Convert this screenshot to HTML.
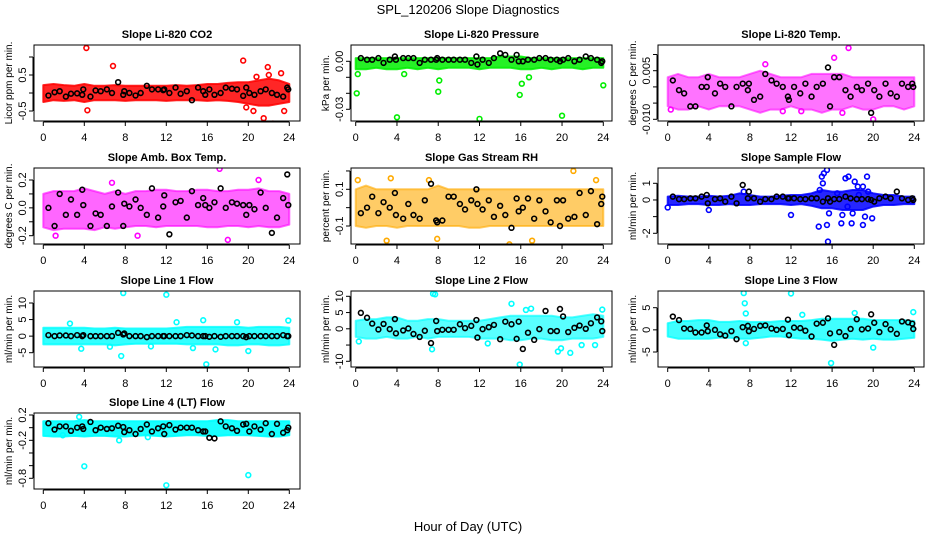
<!DOCTYPE html>
<html><head><meta charset="utf-8"><style>
body{margin:0;background:#fff}
svg{display:block;font-family:"Liberation Sans",sans-serif}
</style></head><body>
<svg id="chart" width="936" height="540" viewBox="0 0 936 540">
<rect width="936" height="540" fill="#fff"/>
<text x="468" y="14" text-anchor="middle" font-size="13">SPL_120206  Slope Diagnostics</text>
<text x="468" y="531" text-anchor="middle" font-size="13">Hour of Day (UTC)</text>
</svg>
<script>
const blackTimes = [0.5,1.1,1.6,2.2,2.7,3.3,3.8,3.9,4.6,5.1,5.6,6.2,6.7,7.3,7.8,7.9,8.4,9.0,9.5,10.1,10.6,11.2,11.7,11.8,12.3,12.9,13.4,14.0,14.5,15.1,15.6,15.8,16.2,16.7,17.3,17.8,18.4,18.9,19.5,19.8,20.1,20.6,21.2,21.7,22.3,22.8,23.4,23.8,23.9];
const bandHours = [0,1,2,3,4,5,6,7,8,9,10,11,12,13,14,15,16,17,18,19,20,21,22,23,24];
const xTicks = [0,4,8,12,16,20,24];

const titles = ["Slope Li-820 CO2","Slope Li-820 Pressure","Slope Li-820 Temp.","Slope Amb. Box Temp.","Slope Gas Stream RH","Slope Sample Flow","Slope Line 1 Flow","Slope Line 2 Flow","Slope Line 3 Flow","Slope Line 4 (LT) Flow"];
const yLabels = ["Licor ppm per min.","kPa per min.","degrees C per min.","degrees C per min.","percent per min.","ml/min per min.","ml/min per min.","ml/min per min.","ml/min per min.","ml/min per min."];
const colors = ["#ff0000","#00ee00","#ff00ff","#ff00ff","#ffaa00","#0000ff","#00ffff","#00ffff","#00ffff","#00ffff"];
const bandOpacity = [0.85,0.85,0.55,0.6,0.6,0.85,0.8,0.65,0.75,0.9];

const yTickVals = [[1,0.5,0,-0.5],[0,-0.01,-0.02,-0.03],[0.01,0.005,0,-0.005,-0.01],[0.2,0.1,0,-0.1,-0.2],[0.2,0.1,0,-0.1],[1,0,-1,-2],[10,5,0,-5],[10,5,0,-5,-10],[5,0,-5],[0.2,0,-0.2,-0.4,-0.6,-0.8]];
const yTickLabels = [["","0.5","","-0.5"],["0.00","","","-0.03"],["","0.005","","","-0.010"],["0.2","","0.0","","-0.2"],["","0.1","","-0.1"],["1","0","","-2"],["10","5","0","-5"],["10","5","0","","-10"],["5","0","-5"],["0.2","","-0.2","","","-0.8"]];

const black1 = [-0.07,0.02,0.05,-0.1,-0.02,-0.01,-0.05,0.1,-0.1,0.07,0.05,0.1,0,0.3,-0.05,0.05,0,-0.07,0,0.2,0.1,0.1,0.08,0.1,0,0.15,-0.02,0.05,-0.2,0.15,0.05,-0.05,0.1,-0.05,0,0.15,0.12,0.1,-0.08,0.15,0,-0.05,0.05,0.1,0,-0.05,-0.1,0.15,0.1];
const black2 = [0.002,0.001,0.001,0.002,-0.001,0.001,0.003,0.001,0.002,0.002,0.002,-0.001,0.001,0.001,0.001,0.002,0.001,0.001,0.001,0.001,0.001,-0.001,0.003,-0.002,0.001,-0.001,0.002,0.005,0.004,0.001,0.004,0,0,0.001,0.001,0.002,0.002,0.001,0.001,0,0.001,0.002,0,0.001,0.003,0.002,0.001,-0.001,0];
const black3 = [0.002,-0.001,-0.002,-0.006,-0.006,0.0,0,0.003,-0.002,0.001,0,-0.006,0,0.001,-0.001,0.001,-0.004,-0.003,0.004,0.002,0.001,0,-0.003,-0.004,0,-0.002,0.001,-0.003,0,0.001,0.006,-0.006,0.003,0.003,-0.001,-0.003,0,-0.001,0.001,-0.008,-0.001,-0.003,0.001,-0.002,-0.003,0.001,0,0.001,0];
const black4 = [0.0,-0.13,0.1,-0.05,0.06,-0.05,0.13,0.02,-0.13,-0.04,-0.05,-0.13,0.01,0.11,-0.13,0.03,0.01,0.06,0.0,-0.05,0.14,-0.07,0.01,0.09,-0.19,0.04,0.05,-0.07,0.12,0.02,0.07,0.02,0.0,0.04,0.14,0.0,0.04,0.03,0.02,-0.05,0.02,-0.01,0.11,0.0,-0.18,-0.07,0.07,0.24,0.02];
const black5 = [-0.03,0,0.06,-0.03,0.03,0.0,0.08,-0.04,-0.06,0.02,-0.04,-0.06,0.04,0.13,-0.07,-0.08,-0.07,0.06,0.06,0.02,-0.01,0.04,0.1,0.02,-0.01,0.04,-0.05,0.01,-0.04,-0.11,0.05,-0.02,0.0,0.05,-0.06,0.04,-0.02,-0.08,0.04,-0.1,0.04,-0.06,-0.05,0.08,-0.04,0.09,-0.09,0.02,0.06];
const black6 = [0.2,0.05,0.05,0.1,0.1,0.2,0.3,-0.2,0.05,0.1,-0.1,0.2,-0.2,0.9,0.1,0.5,0.1,-0.1,0.05,0.05,0.2,0.2,0.1,0.1,0.1,0.05,0.05,0.1,0.1,-0.1,0.1,-0.1,0.05,0.05,0.2,0.1,0.05,0.05,0.05,0.0,-0.1,0.1,0.2,0.1,0.5,0.1,0.0,0.1,0];
const black7 = [0.3,0,0.2,0.2,0,0.3,0,0.3,0,0,0,0,0,1,0.5,0.8,0,0,0,-0.3,0,0,0,0,0,0,0,0.3,0.2,0,0,0,-0.2,0,-0.2,0,0,0,0,-0.3,0,0,0,0,0,0,0.3,0,0];
const black8 = [4.9,3.4,1.6,-0.2,1.5,-0.1,3.0,-1.4,-0.5,0.1,-1.6,-2.5,-0.6,-4.4,2.4,-0.7,-0.3,-0.3,-0.3,1.4,0.2,0.9,2.7,-2.7,-0.1,0.5,1.2,-3.2,2.2,1.4,-3.1,2.2,-6.2,-1.2,-3.4,-0.1,5.5,-0.7,-0.7,6.1,3.8,-1.0,0.3,1.0,0.0,1.7,3.5,2.3,-0.7];
const black9 = [3.0,2.2,0.3,0.2,-0.6,-0.6,1.0,-0.3,0,-1.0,-1.3,-0.3,-2.1,0.6,0.9,-0.3,0.2,0.9,1.0,0.3,0,0.2,2.3,-1.2,0.5,0.4,-0.2,-1.5,1.4,1.6,2.6,-0.8,-3.4,-0.5,-1.4,0.2,2.4,0.1,0.3,3.5,1.6,-0.5,1.3,0.1,-0.9,1.9,1.7,1.4,0.2];
const black10 = [0.07,-0.03,0.02,0.02,-0.05,0.0,0.02,-0.02,0.09,-0.04,0.0,-0.02,-0.01,0.03,0.01,-0.07,-0.04,-0.1,-0.02,0.05,-0.06,-0.01,0.02,-0.1,0.04,-0.03,0,0.0,0,-0.04,-0.06,-0.06,-0.16,-0.17,0.1,0.02,-0.01,-0.05,0.05,0.06,-0.06,0.02,-0.03,0.07,-0.1,0.06,-0.08,-0.04,0.0];
const blackSeries = [black1,black2,black3,black4,black5,black6,black7,black8,black9,black10];

const bandLo = [
 [-0.25,-0.2,-0.22,-0.2,-0.25,-0.2,-0.2,-0.2,-0.22,-0.2,-0.2,-0.2,-0.22,-0.2,-0.2,-0.2,-0.22,-0.2,-0.22,-0.25,-0.3,-0.35,-0.35,-0.3,-0.25],
 [-0.005,-0.005,-0.004,-0.005,-0.005,-0.004,-0.005,-0.004,-0.005,-0.004,-0.004,-0.004,-0.005,-0.004,-0.004,-0.004,-0.005,-0.005,-0.004,-0.005,-0.004,-0.004,-0.005,-0.004,-0.004],
 [-0.006,-0.007,-0.007,-0.006,-0.007,-0.006,-0.006,-0.006,-0.007,-0.008,-0.007,-0.007,-0.006,-0.007,-0.007,-0.008,-0.007,-0.007,-0.006,-0.007,-0.007,-0.006,-0.006,-0.007,-0.006],
 [-0.14,-0.16,-0.15,-0.15,-0.15,-0.16,-0.14,-0.15,-0.14,-0.13,-0.13,-0.14,-0.13,-0.13,-0.13,-0.13,-0.14,-0.14,-0.13,-0.13,-0.14,-0.13,-0.14,-0.14,-0.12],
 [-0.1,-0.11,-0.1,-0.1,-0.11,-0.1,-0.1,-0.1,-0.1,-0.1,-0.1,-0.11,-0.11,-0.1,-0.1,-0.1,-0.1,-0.1,-0.1,-0.1,-0.1,-0.1,-0.1,-0.1,-0.1],
 [-0.3,-0.3,-0.25,-0.25,-0.3,-0.3,-0.25,-0.3,-0.3,-0.25,-0.25,-0.25,-0.3,-0.25,-0.35,-0.5,-0.5,-0.6,-0.6,-0.6,-0.4,-0.3,-0.3,-0.25,-0.25],
 [-2.5,-2.5,-2.5,-2.5,-2.5,-2.5,-2.5,-2.8,-2.5,-2.3,-2.3,-2.3,-2.3,-2.3,-2.5,-2.5,-2.5,-2.5,-2.8,-2.8,-2.5,-2.5,-2.8,-2.8,-2.5],
 [-2.5,-3,-3,-2.5,-3,-3,-2.5,-3,-2.5,-2.5,-2.5,-2.5,-3,-3,-3,-3.5,-3.5,-3,-3,-3.5,-3.5,-3,-3,-3,-2.5],
 [-1.5,-2,-2,-2,-2,-1.8,-1.8,-2,-2,-1.8,-1.5,-1.5,-1.8,-2,-2,-2.2,-2.5,-2.2,-2,-2.2,-2,-2.2,-2.2,-2,-1.8],
 [-0.13,-0.14,-0.14,-0.13,-0.14,-0.13,-0.13,-0.14,-0.14,-0.13,-0.12,-0.13,-0.14,-0.13,-0.12,-0.12,-0.13,-0.13,-0.12,-0.12,-0.12,-0.13,-0.14,-0.14,-0.12]];
const bandHi = [
 [0.22,0.25,0.22,0.2,0.25,0.2,0.2,0.22,0.2,0.2,0.2,0.2,0.2,0.22,0.2,0.22,0.25,0.25,0.28,0.3,0.3,0.35,0.4,0.35,0.25],
 [0.002,0.002,0.002,0.002,0.002,0.002,0.002,0.002,0.002,0.002,0.002,0.002,0.002,0.002,0.003,0.003,0.003,0.002,0.002,0.002,0.002,0.002,0.002,0.002,0.002],
 [0.003,0.004,0.003,0.003,0.004,0.003,0.003,0.003,0.004,0.005,0.004,0.003,0.003,0.003,0.004,0.004,0.004,0.004,0.003,0.003,0.003,0.003,0.003,0.003,0.003],
 [0.1,0.12,0.12,0.12,0.14,0.12,0.1,0.12,0.1,0.12,0.12,0.13,0.13,0.12,0.12,0.13,0.13,0.12,0.12,0.13,0.13,0.14,0.12,0.12,0.1],
 [0.1,0.12,0.1,0.1,0.1,0.1,0.1,0.1,0.12,0.1,0.1,0.1,0.1,0.1,0.1,0.1,0.1,0.1,0.1,0.1,0.1,0.1,0.1,0.1,0.1],
 [0.2,0.25,0.2,0.2,0.25,0.2,0.25,0.4,0.3,0.2,0.2,0.25,0.3,0.3,0.4,0.6,0.5,0.5,0.6,0.6,0.4,0.3,0.3,0.2,0.2],
 [2.5,2.5,2.5,2.5,2.5,2.3,2.3,2.5,2.3,2.3,2.3,2.3,2.3,2.5,2.8,2.8,2.8,2.8,2.8,2.8,2.5,2.8,2.8,2.8,2.5],
 [2.5,3,3,3.5,3.5,2.5,2.5,3,3,2.5,2.5,2.5,2.5,3,3.5,4,4,4,4,4,3.5,3.5,4,4.5,4],
 [1.5,2,2,2.2,2.2,1.8,1.8,2,1.8,1.8,1.8,2,2,2,2.2,2.5,2.5,2.5,2.5,2.5,2.2,2.2,2.2,2.2,2],
 [0.1,0.1,0.1,0.1,0.12,0.1,0.1,0.1,0.1,0.1,0.1,0.1,0.1,0.1,0.1,0.1,0.1,0.12,0.12,0.1,0.1,0.1,0.1,0.1,0.1]];

const outX = [
 [4.2,6.8,4.3,19.5,21.9,23.2,22.4,21.5,23.5,19.8,20.5,22.0,20.8],
 [0.1,4.0,8.0,8.1,12.0,15.9,16.1,20.0,24.0,0.2,4.7,16.8],
 [17.6,20.0,17.0,0.3,16.2,9.5,13.0,11.2],
 [17.2,4.9,18.0,9.2,1.2,6.7,21],
 [21.1,3.4,0.2,7.1,23.3,6.9,11.1,14.9,17.1,7.9,3.0],
 [15.6,15.5,15.2,15.0,15.1,14.8,15.5,14.7,15.7,17.3,17.6,17.9,18.2,18.5,16.9,19.0,19.4,19.2,18.0,17.0,19.9,18.6,19.5,17.5,12.0,4.0,0.0,7.4,16.5,19.0],
 [7.8,12.0,15.9,7.6,23.9,15.6,13.0,3.7,20,6.5,10.5,14.6,16.8,18.9,2.6],
 [7.5,7.7,15.9,7.4,0.3,20.8,19.6,15.1,17.0,23.9,16.5,19.9,21.9,23.2,12.8],
 [7.4,12.0,7.5,7.6,15.9,20.0,23.9,7.6,13.1,18.2],
 [4.0,20.0,12.0,3.5,7.4,10.2,1.9]];
const outY = [
 [1.25,0.75,-0.48,0.9,0.72,0.55,-0.85,-0.7,-0.5,-0.4,-0.5,0.5,0.45],
 [-0.02,-0.035,-0.019,-0.012,-0.036,-0.021,-0.014,-0.034,-0.015,-0.008,-0.008,-0.01],
 [0.012,-0.010,-0.008,-0.007,0.009,0.007,-0.0075,-0.0075],
 [0.28,-0.29,-0.23,-0.2,-0.2,0.18,0.2],
 [0.2,0.16,0.15,0.15,0.15,-0.22,-0.22,-0.2,-0.18,-0.17,-0.18],
 [-2.5,1.8,1.6,1.4,1.0,0.6,-1.5,-1.6,-0.8,1.3,1.4,-1.4,1.1,0.8,-1.4,-1.5,1.4,-1.0,-0.8,-0.9,-1.1,0.3,0.5,-0.4,-0.9,-0.6,-0.45,0.5,0.4,0.8],
 [13,12.5,-8.5,-6,4.7,4.8,4.2,-3.8,-4.5,-3.2,-3.1,-3.6,-4,4.2,3.8],
 [10.8,10.6,-11,-6.3,-3.9,-7.4,-7,7.7,6.2,5.9,5.8,-6,-5,-5,-4.5],
 [8.3,8.2,6.0,3.7,-7.5,-4,4,-3,3.4,3.8],
 [-0.61,-0.75,-0.91,0.17,-0.2,-0.15,-0.12]];

// layout (non-data)
const colBox = [[34,300,43.3,289.3],[351,612,355.7,603.3],[658,924,667.7,914.3]];
const rowBox = [[45,121],[168,244],[291,367],[413,489]];
const yCal = [[0.5,75,-0.5,111],[0,61.3,-0.03,109.3],[0.005,70.7,-0.01,119.3],[0.2,180,-0.2,235.7],[0.1,189.3,-0.1,226],[1,183.3,-2,233.3],[10,303,-5,352.7],[10,296.3,-10,361.3],[5,307.7,-5,352],[0.2,415,-0.8,478.3]];

const NS = "http://www.w3.org/2000/svg";
const svg = document.getElementById('chart');
function mk(tag, attrs, parent){const e=document.createElementNS(NS,tag);for(const k in attrs)e.setAttribute(k,attrs[k]);(parent||svg).appendChild(e);return e;}

const defs = mk('defs',{});
for(let p=0;p<10;p++){
  const c=p%3, r=Math.floor(p/3);
  const [L,R,x0,x24]=colBox[c]; const [T,B]=rowBox[r];
  const [v1,p1,v2,p2]=yCal[p];
  const xs=h=>x0+(x24-x0)*h/24;
  const ys=v=>p1+(v-v1)*(p2-p1)/(v2-v1);
  const g=mk('g',{});
  
  
  const cp=mk('clipPath',{id:'clip'+p},defs);
  mk('rect',{x:L,y:T,width:R-L,height:B-T},cp);
  const title=mk('text',{x:(L+R)/2,y:T-7,'text-anchor':'middle','font-size':11,'font-weight':'bold'},g);
  title.textContent=titles[p];
  
  
  const yl=mk('text',{x:0,y:0,'text-anchor':'middle','font-size':10,transform:`translate(${L-22},${(T+B)/2}) rotate(-90)`},g);
  yl.textContent=yLabels[p];
  
  
  const plot=mk('g',{'clip-path':`url(#clip${p})`},g);
  
  
  let d='';
  bandHours.forEach((h,i)=>{d+=(i?'L':'M')+xs(h).toFixed(1)+','+ys(bandHi[p][i]).toFixed(1);});
  for(let i=bandHours.length-1;i>=0;i--) d+='L'+xs(bandHours[i]).toFixed(1)+','+ys(bandLo[p][i]).toFixed(1);
  d+='Z';
  const band=mk('path',{d:d,fill:colors[p],stroke:colors[p],'stroke-width':2,'stroke-linejoin':'round','fill-opacity':bandOpacity[p],'stroke-opacity':bandOpacity[p]},plot);
  
  
  outX[p].forEach((h,i)=>{
    const o=mk('circle',{cx:xs(h),cy:ys(outY[p][i]),r:2.4,fill:'none',stroke:colors[p],'stroke-width':1.6},plot);
    
    
  });
  blackTimes.forEach((h,i)=>{
    const o=mk('circle',{cx:xs(h),cy:ys(blackSeries[p][i]),r:2.4,fill:'none',stroke:'#000','stroke-width':1.6},plot);
    
    
  });
  const box=mk('rect',{x:L,y:T,width:R-L,height:B-T,fill:'none',stroke:'#000','stroke-width':1},g);
  
  
  const xa=mk('g',{},g);
  
  
  mk('line',{x1:xs(0),x2:xs(24),y1:B+1,y2:B+1,stroke:'#000'},xa);
  xTicks.forEach(t=>{
    mk('line',{x1:xs(t),x2:xs(t),y1:B+1,y2:B+5,stroke:'#000'},xa);
    const tl=mk('text',{x:xs(t),y:B+20,'text-anchor':'middle','font-size':11},xa);
    tl.textContent=t;
    
    
  });
  const ya=mk('g',{},g);
  
  
  const tv=yTickVals[p];
  mk('line',{x1:L-1,x2:L-1,y1:ys(tv[0]),y2:ys(tv[tv.length-1]),stroke:'#000'},ya);
  tv.forEach((v,i)=>{
    mk('line',{x1:L-1,x2:L-5,y1:ys(v),y2:ys(v),stroke:'#000'},ya);
    if(yTickLabels[p][i]){
      const tl=mk('text',{x:0,y:0,'text-anchor':'middle','font-size':11,transform:`translate(${L-8},${ys(v)}) rotate(-90)`},ya);
      tl.textContent=yTickLabels[p][i];
      
      
    }
  });
}
</script>
</body></html>
